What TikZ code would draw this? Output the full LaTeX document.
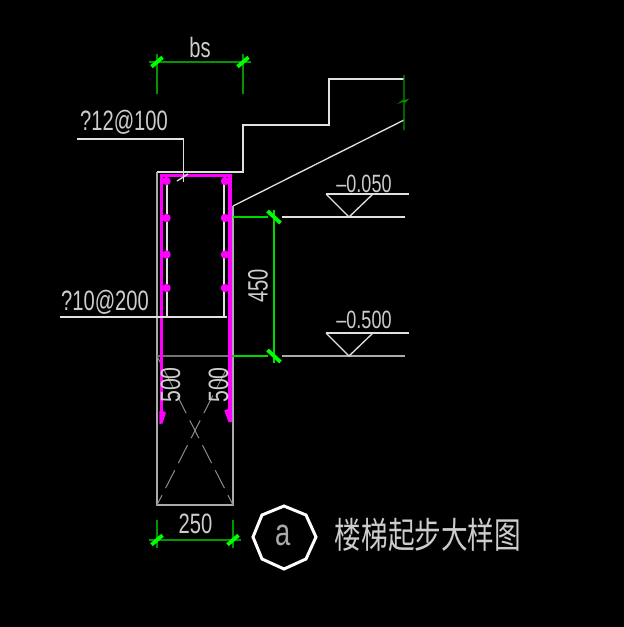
\documentclass[tikz,border=0pt]{standalone}
\usepackage{fontspec}
\newfontfamily\cadfont[FakeStretch=0.72]{Liberation Sans}
\newfontfamily\cadwide[FakeStretch=0.76]{Liberation Sans}
\newfontfamily\cjkfont[FakeStretch=0.74]{Noto Sans CJK SC}
\definecolor{cadgreen}{RGB}{0,150,0}
\definecolor{cadlime}{RGB}{0,255,0}
\definecolor{cadpink}{RGB}{255,0,255}
\definecolor{cadgray}{RGB}{170,170,170}
\definecolor{cadwhite}{RGB}{225,225,225}
\definecolor{cadtext}{RGB}{205,205,205}
\tikzset{
	wall/.style={line width=1.3pt, color=cadwhite},
	beam/.style={line width=1.6pt, color=cadgray},
	dimline/.style={line width=1.3pt, color=cadgreen},
	dimbright/.style={line width=1.4pt, color=cadlime!85!black},
	dimslash/.style={line width=3.8pt, color=cadlime},
	rebar/.style={line width=3.6pt, color=cadpink},
	hidden/.style={line width=1pt, color=black!45!white, dash pattern=on 20pt off 8pt, dash phase=9pt},
	label/.style={inner sep=0pt, text=cadtext, font=\cadfont\fontsize{28}{30}\selectfont},
}
\def\slashup(#1,#2){\draw[dimslash] (#1-5.5, #2+4.7) -- (#1+5.5, #2-4.7);}
\def\slashdown(#1,#2){\draw[dimslash] (#1-6.5, #2-6) -- (#1+6.5, #2+6);}
\def\rebardot(#1,#2){\fill[color=cadpink] (#1, #2) circle (4.2);}

\begin{document}
\begin{tikzpicture}[x=1pt, y=-1pt]
			%%%%% START %%%%%
			
			\fill[black] (0, 0) rectangle (624, 627);
			\useasboundingbox (0, 0) rectangle (624, 627);
			
			% beam outline and steps
			\draw[wall] (157, 172) -- (243, 172) -- (243, 125) -- (329, 125) -- (329, 79) -- (404, 79);
			\draw[wall] (233, 206) -- (404, 120);
			\draw[beam] (157, 172) -- (157, 505) -- (233, 505) -- (233, 206);
			\draw[line width=1.3pt, color=black!55!white] (157, 356) -- (233, 356);
			\draw[hidden] (157, 505) -- (233, 356);
			\draw[hidden] (233, 505) -- (157, 356);
			
			% stirrup
			\draw[wall] (167, 181) -- (167, 318);
			\draw[wall] (224, 181) -- (224, 317);
			\draw[rebar] (161.3, 423) -- (161.3, 175.3) -- (230, 175.3) -- (230, 415);
			\fill[color=cadpink] (159.3, 424) -- (162.5, 423.5) -- (166, 412.7) -- (163, 411) -- (159.3, 411) -- cycle;
			\fill[color=cadpink] (232, 422) -- (228.5, 422) -- (224.3, 410.5) -- (228, 409) -- (232, 412) -- cycle;
			\rebardot(166.5, 181)
			\rebardot(225, 181)
			\rebardot(166.5, 218)
			\rebardot(225, 218)
			\rebardot(166.5, 254.5)
			\rebardot(225, 254.5)
			\rebardot(166.5, 288)
			\rebardot(225, 288)
			
			% leaders
			\draw[wall] (77, 139) -- (183.5, 139) -- (183.5, 181.5);
			\draw[wall] (177, 181) -- (188, 174);
			\draw[wall] (60, 317) -- (227, 317);
			\node[label] (barTop) at (124, 122.5) {?12@100};
			\node[label] (barSide) at (105, 302.5) {?10@200};
			
			% top dimension
			\draw[dimline] (149, 62) -- (251, 62);
			\draw[dimline] (157, 54) -- (157, 94);
			\draw[dimline] (243, 54) -- (243, 94);
			\slashup(157, 62)
			\slashup(243, 62)
			\node[label] (dimBs) at (200, 47.5) {bs};
			
			% break line
			\draw[line width=1.2pt, color=cadgreen] (404, 75) -- (404, 100) -- (401, 102) -- (407, 100) -- (404, 103) -- (404, 130);
			
			% levels
			\draw[dimbright] (233, 217) -- (268, 217);
			\draw[dimbright] (233, 356) -- (268, 356);
			\draw[dimbright] (274, 210) -- (274, 363);
			\slashdown(274, 217)
			\slashdown(274, 356)
			\node[label, rotate=90] (dimRise) at (258, 286) {450};
			
			\draw[wall] (282, 217) -- (405, 217);
			\draw[wall] (326, 194) -- (409, 194);
			\draw[wall] (326, 194) -- (349, 217) -- (373, 194);
			\node[label, font=\cadfont\fontsize{25}{27}\selectfont] (levelA) at (364, 183.5) {–0.050};
			
			\draw[beam, line width=1.2pt] (282, 356) -- (405, 356);
			\draw[wall] (326, 333) -- (409, 333);
			\draw[wall] (326, 333) -- (349, 356) -- (373, 333);
			\node[label, font=\cadfont\fontsize{25}{27}\selectfont] (levelB) at (364, 319.5) {–0.500};
			
			% anchorage lengths
			\node[label, rotate=90, font=\cadwide\fontsize{28}{30}\selectfont] (lapLeft) at (170.5, 385) {500};
			\node[label, rotate=90, font=\cadwide\fontsize{28}{30}\selectfont] (lapRight) at (218.5, 385) {500};
			
			% bottom dimension
			\draw[dimline] (149, 540) -- (241, 540);
			\draw[dimline] (157, 520) -- (157, 548);
			\draw[dimline] (233, 520) -- (233, 548);
			\slashup(157, 540)
			\slashup(233, 540)
			\node[label] (dimWidth) at (195.5, 523.5) {250};
			
			% title
			\draw[line width=3pt, color=white] (284, 506) -- (306, 515) -- (316, 537) -- (306, 559) -- (284, 569) -- (262, 559) -- (253, 537) -- (262, 515) -- cycle;
			\node[label, text=cadgray, font=\cadfont\fontsize{38}{40}\selectfont] (titleMark) at (283.5, 535.5) {a};
			\node[label, font=\cjkfont\fontsize{36}{38}\selectfont] (title) at (428, 535) {楼梯起步大样图};
			
			%%%%% END %%%%%
		\end{tikzpicture}
\end{document}
